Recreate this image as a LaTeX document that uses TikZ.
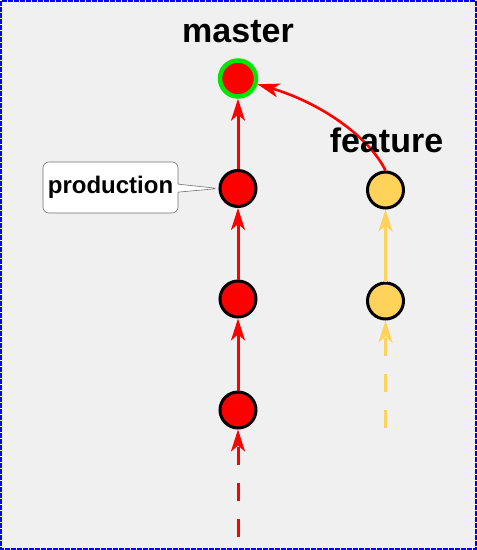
\documentclass[tikz,border=0pt]{standalone}
\usepackage{fontspec}
\setmainfont{Liberation Sans}
\usetikzlibrary{arrows.meta, positioning, shapes.callouts}
\definecolor{bggray}{RGB}{240,240,240}
\definecolor{gitred}{RGB}{255,0,0}
\definecolor{gitgreen}{RGB}{0,230,0}
\definecolor{gityellow}{RGB}{255,211,90}

\begin{document}
\begin{tikzpicture}[x=1pt, y=-1pt,
  commit/.style={circle, minimum size=36pt, inner sep=0pt, line width=3pt, draw=black},
  branchlabel/.style={font=\fontsize{34}{40}\selectfont\bfseries, anchor=base, inner sep=0pt},
  redarrow/.style={-{Stealth[length=22pt, width=14pt, inset=6pt]}, line width=3pt, gitred},
  yellowarrow/.style={-{Stealth[length=22pt, width=14pt, inset=6pt]}, line width=3pt, gityellow}]
  % background and frame
  \fill[bggray] (0,0) rectangle (477,550);
  \draw[blue, line width=2pt, dash pattern=on 5pt off 1pt] (1,1) rectangle (476,549);

  % master line
  \node[commit, fill=gitred, draw=gitgreen, line width=4.5pt] (m0) at (238,78.5) {};
  \node[commit, fill=gitred] (m1) at (238,188.5) {};
  \node[commit, fill=gitred] (m2) at (238,299) {};
  \node[commit, fill=gitred] (m3) at (238,410) {};
  \coordinate (mtail) at (238,537);

  \draw[redarrow] (m1) -- (m0);
  \draw[redarrow] (m2) -- (m1);
  \draw[redarrow] (m3) -- (m2);
  \draw[redarrow, dash pattern=on 18pt off 18pt] (mtail) -- (m3);

  % feature line
  \node[commit, fill=gityellow] (f1) at (385.5,190) {};
  \node[commit, fill=gityellow] (f2) at (385.5,301) {};
  \coordinate (ftail) at (385.5,428);

  \draw[yellowarrow] (f2) -- (f1);
  \draw[yellowarrow, dash pattern=on 18pt off 18pt] (ftail) -- (f2);

  % merge into master
  \draw[redarrow, line width=2.6pt] (f1.north) .. controls (368,135) and (318,102) .. (m0);

  % labels
  \node[branchlabel] (mlabel) at (238,42) {master};
  \node[branchlabel] (flabel) at (386.5,152) {feature};
  \node[rectangle callout, rounded corners=6pt, draw=black!55, fill=white, line width=0.6pt,
        minimum width=135pt, minimum height=51pt, inner sep=0pt,
        callout absolute pointer={(m1.west)}, callout pointer width=8pt,
        font=\fontsize{24}{28}\selectfont\bfseries] (prod) at (110.5,187.5) {production};
\end{tikzpicture}
\end{document}
